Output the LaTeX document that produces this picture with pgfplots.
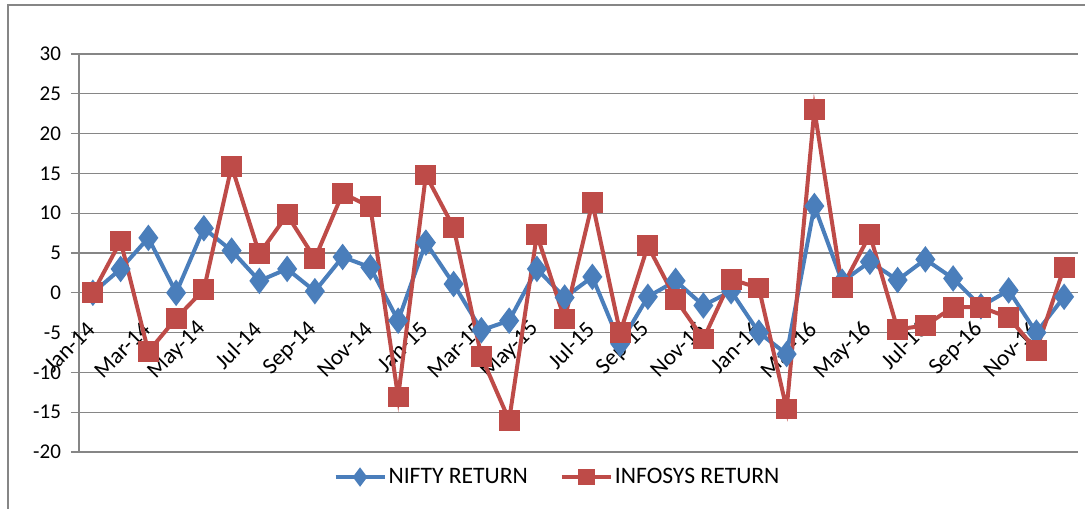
\documentclass[border=0pt]{standalone}
\usepackage{pgfplots}
\pgfplotsset{compat=1.18}
\usepackage{fontspec}
\setmainfont{Carlito}
\definecolor{nifty}{HTML}{4A7EBB}
\definecolor{infy}{HTML}{BE4B48}
\definecolor{gridc}{HTML}{868686}
\pgfplotstableread{
i nifty infy
0 0.0 0.0
1 3.0 6.5
2 6.9 -7.4
3 0.0 -3.2
4 8.1 0.4
5 5.3 15.9
6 1.5 4.9
7 3.0 9.8
8 0.2 4.3
9 4.5 12.5
10 3.2 10.8
11 -3.5 -13.1
12 6.3 14.8
13 1.1 8.2
14 -4.7 -8.0
15 -3.5 -16.0
16 3.0 7.3
17 -0.6 -3.3
18 2.0 11.3
19 -6.4 -5.0
20 -0.5 5.9
21 1.5 -0.8
22 -1.6 -5.8
23 0.2 1.7
24 -5.0 0.6
25 -7.7 -14.6
26 10.9 23.0
27 1.4 0.7
28 3.9 7.3
29 1.6 -4.6
30 4.2 -4.1
31 1.8 -1.8
32 -1.7 -1.8
33 0.3 -3.1
34 -5.0 -7.2
35 -0.5 3.2
}\datatable
\begin{document}
\begin{tikzpicture}
\useasboundingbox (-39.5pt,-28pt) rectangle (503pt,226pt);
\draw[gridc, line width=1pt] (-35.5pt,-40pt) -- (-35.5pt,223.5pt) -- (520pt,223.5pt);
\begin{axis}[
  at={(0pt,0pt)}, anchor=south west,
  scale only axis, width=499.5pt, height=199pt,
  xmin=-0.5, xmax=35.5, ymin=-20, ymax=30,
  axis x line=middle, axis y line=left,
  axis line style={gridc, line width=0.6pt, -},
  ytick={-20,-15,...,30},
  ymajorgrids, grid style={gridc, line width=0.6pt},
  tick align=outside, major tick length=4pt,
  tick style={gridc, line width=0.6pt},
  xtick={0,2,...,34},
  xticklabels={Jan-14,Mar-14,May-14,Jul-14,Sep-14,Nov-14,Jan-15,Mar-15,May-15,Jul-15,Sep-15,Nov-15,Jan-16,Mar-16,May-16,Jul-16,Sep-16,Nov-16},
  x tick style={draw=none},
  extra x ticks={-0.5,1.5,...,35.5},
  extra x tick labels={},
  extra x tick style={grid=none, tick style={draw=gridc, line width=0.6pt}},
  /pgf/number format/assume math mode=true,
  yticklabel style={font=\fontsize{10.5}{12}\selectfont, xshift=-1.5pt},
  xticklabel style={font=\fontsize{11.5}{13}\selectfont, yshift=-10pt, xshift=1.5pt, rotate=45, anchor=east},
  legend style={at={(axis description cs:0.479,-0.063)}, anchor=center, draw=none, fill=none,
    legend columns=2, font=\fontsize{11.8}{13}\selectfont, nodes={inner sep=1pt}},
  legend image code/.code={\draw[mark repeat=2, mark phase=2, mark size=3.2pt] plot coordinates {(0pt,0pt) (12.25pt,0pt) (24.5pt,0pt)};},
]
\addplot[nifty, line width=2pt, mark=diamond*, mark size=5pt, mark options={solid}] table[x=i, y=nifty] {\datatable};
\addlegendentry{NIFTY RETURN\hspace{15pt}\mbox{}}
\addplot[infy, line width=2pt, mark=square*, mark size=4.2pt, mark options={solid}] table[x=i, y=infy] {\datatable};
\addlegendentry{INFOSYS RETURN}
\end{axis}
\end{tikzpicture}
\end{document}
